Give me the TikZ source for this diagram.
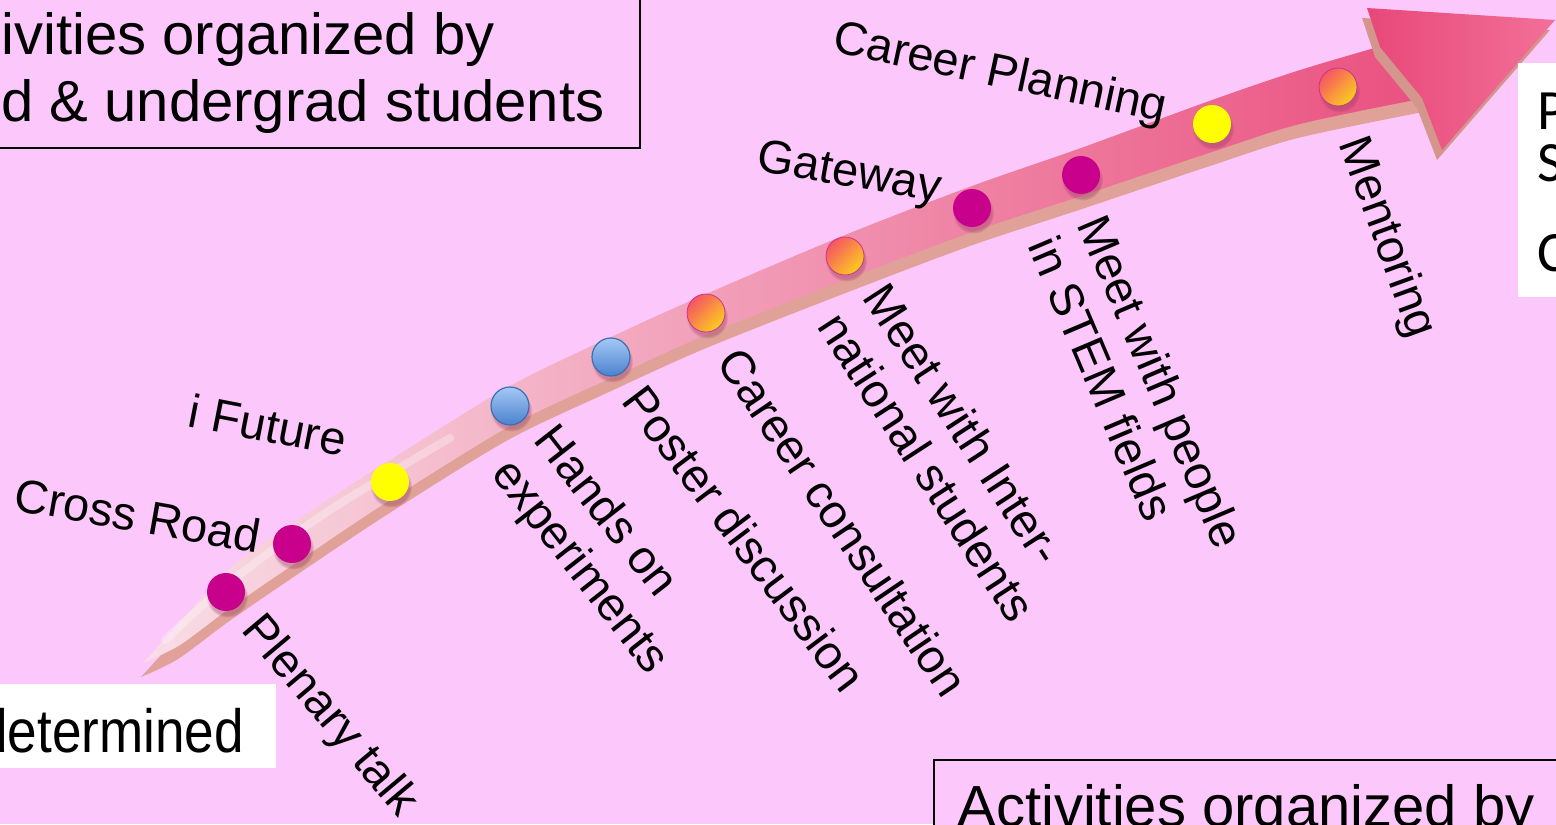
\documentclass[tikz,border=0pt]{standalone}
\usepackage{fontspec}
\setmainfont{Liberation Sans}
\newfontfamily\calibrifont{Carlito}
\newfontfamily\narrowfont[FakeStretch=0.87]{Liberation Sans}
\usepackage{tikz}
\usetikzlibrary{positioning, shadows, shadings}

\definecolor{slidebg}{RGB}{252,200,252}
\definecolor{dotmag}{RGB}{200,0,140}
\definecolor{dotyel}{RGB}{255,255,0}
\definecolor{bluetop}{RGB}{165,200,245}
\definecolor{bluebot}{RGB}{75,130,205}
\definecolor{blueedge}{RGB}{60,110,180}
\definecolor{orangetop}{RGB}{245,85,100}
\definecolor{orangebot}{RGB}{252,205,30}
\definecolor{orangeedge}{RGB}{205,50,140}
\definecolor{shadowpink}{RGB}{150,60,100}
\definecolor{shaftpale}{RGB}{248,222,230}
\definecolor{shaftmid}{RGB}{240,138,168}
\definecolor{shafthot}{RGB}{234,80,128}
\definecolor{shaftside}{RGB}{224,162,152}
\definecolor{headback}{RGB}{232,72,122}
\definecolor{headtip}{RGB}{242,112,152}
\definecolor{headside}{RGB}{212,150,140}

\begin{document}
\begin{tikzpicture}[x=0.5pt, y=-0.5pt,
    lbl/.style={font=\fontsize{23.5}{27}\selectfont, inner sep=0pt, align=left},
    boxtext/.style={font=\fontsize{29}{33.5}\selectfont, inner sep=0pt, align=left},
    boxline/.style={draw=black, fill=slidebg, line width=0.6pt},
    dotbase/.style={circle, minimum size=19pt, inner sep=0pt,
        circular drop shadow={shadow xshift=0.6pt, shadow yshift=-2.2pt, opacity=0.4, fill=shadowpink}},
    dotm/.style={dotbase, fill=dotmag},
    doty/.style={dotbase, fill=dotyel},
    dotb/.style={dotbase, top color=bluetop, bottom color=bluebot, draw=blueedge, line width=0.6pt},
    doto/.style={dotbase, top color=orangetop, bottom color=orangebot, shading angle=45, draw=orangeedge, line width=0.4pt}]

    % slide area
    \useasboundingbox (0,0) rectangle (1556,824);
    \clip (0,0) rectangle (1556,824);
    \fill[slidebg] (0,0) rectangle (1556,824);

    % curved arrow: shaft edges and head
    \def\shaftpath{(143,663) -- plot[smooth] coordinates {(143,663) (175,628) (230,568) (300,518) (390,460) (510,386) (611,337) (706,294) (845,235) (972,186) (1081,148) (1212,100) (1300,70) (1385,45)}
        -- (1425,98) -- plot[smooth] coordinates {(1425,98) (1300,124) (1212,152) (1081,196) (972,232) (845,280) (706,335) (611,378) (510,426) (390,500) (300,560) (230,608) (180,645) (143,663)} -- cycle}
    \def\headpath{(1367,8) -- (1555,20) -- (1442,150) -- (1422,98) -- (1380,47) -- cycle}

    \fill[shaftside, shift={(-2,14)}] \shaftpath;
    \shade[left color=shaftpale, middle color=shaftmid, right color=shafthot] \shaftpath;
    \draw[white, opacity=0.3, line width=4pt, line cap=round]
        plot[smooth] coordinates {(165,640) (230,582) (330,510) (450,438)};
    \fill[headside, shift={(-5,10)}] \headpath;
    \shade[left color=headback, right color=headtip] \headpath;

    % milestones on the arrow
    \node[dotm] (d1) at (226,592) {};
    \node[dotm] (d2) at (292,544) {};
    \node[doty] (d3) at (390,482) {};
    \node[dotb] (d4) at (510,406) {};
    \node[dotb] (d5) at (611,357) {};
    \node[doto] (d6) at (706,313) {};
    \node[doto] (d7) at (845,256) {};
    \node[dotm] (d8) at (972,208) {};
    \node[dotm] (d9) at (1081,175) {};
    \node[doty] (d10) at (1212,124) {};
    \node[doto] (d11) at (1338,87) {};

    % labels above the arrow
    \node[lbl, rotate=-10] (crossroad) at (138,515) {Cross Road};
    \node[lbl, rotate=-11] (ifuture) at (268,425) {i Future};
    \node[lbl, rotate=-10] (gateway) at (849,175) {Gateway};
    \node[lbl, rotate=-12] (planning) at (1000,75) {Career Planning};

    % labels below the arrow
    \node[lbl, rotate=-50] (plenary) at (329,717) {Plenary talk};
    \node[lbl, rotate=-52] (hands) at (600,551) {Hands on\\experiments};
    \node[lbl, rotate=-53] (poster) at (745,538) {Poster discussion};
    \node[lbl, rotate=-56] (consult) at (843,522) {Career consultation};
    \node[lbl, rotate=-57] (intl) at (950,452) {Meet with Inter-\\national students};
    \node[lbl, rotate=-67] (stem) at (1137,392) {Meet with people\\in STEM fields};
    \node[lbl, rotate=-70] (mentor) at (1386,238) {Mentoring};

    % text boxes cut by the slide edge
    \draw[boxline] (-10,-10) rectangle (640,148);
    \node[boxtext, anchor=north west] (orgtop) at (1,12) {ivities organized by\\d \& undergrad students};

    \fill[white] (-10,684) rectangle (276,768);
    \node[font=\narrowfont\fontsize{30.5}{36}\selectfont, inner sep=0pt, anchor=base west] (determined) at (-22,752) {determined};

    \fill[white] (1518,63) rectangle (1570,297);
    \node[font=\calibrifont\fontsize{28.5}{26}\selectfont, inner sep=0pt, align=left, anchor=north west] (rightbox) at (1537,93) {P\\S\\[19pt]C};

    \draw[boxline] (934,760) rectangle (1600,900);
    \node[boxtext, anchor=north west] (orgbottom) at (957,784) {Activities organized by};
\end{tikzpicture}
\end{document}
